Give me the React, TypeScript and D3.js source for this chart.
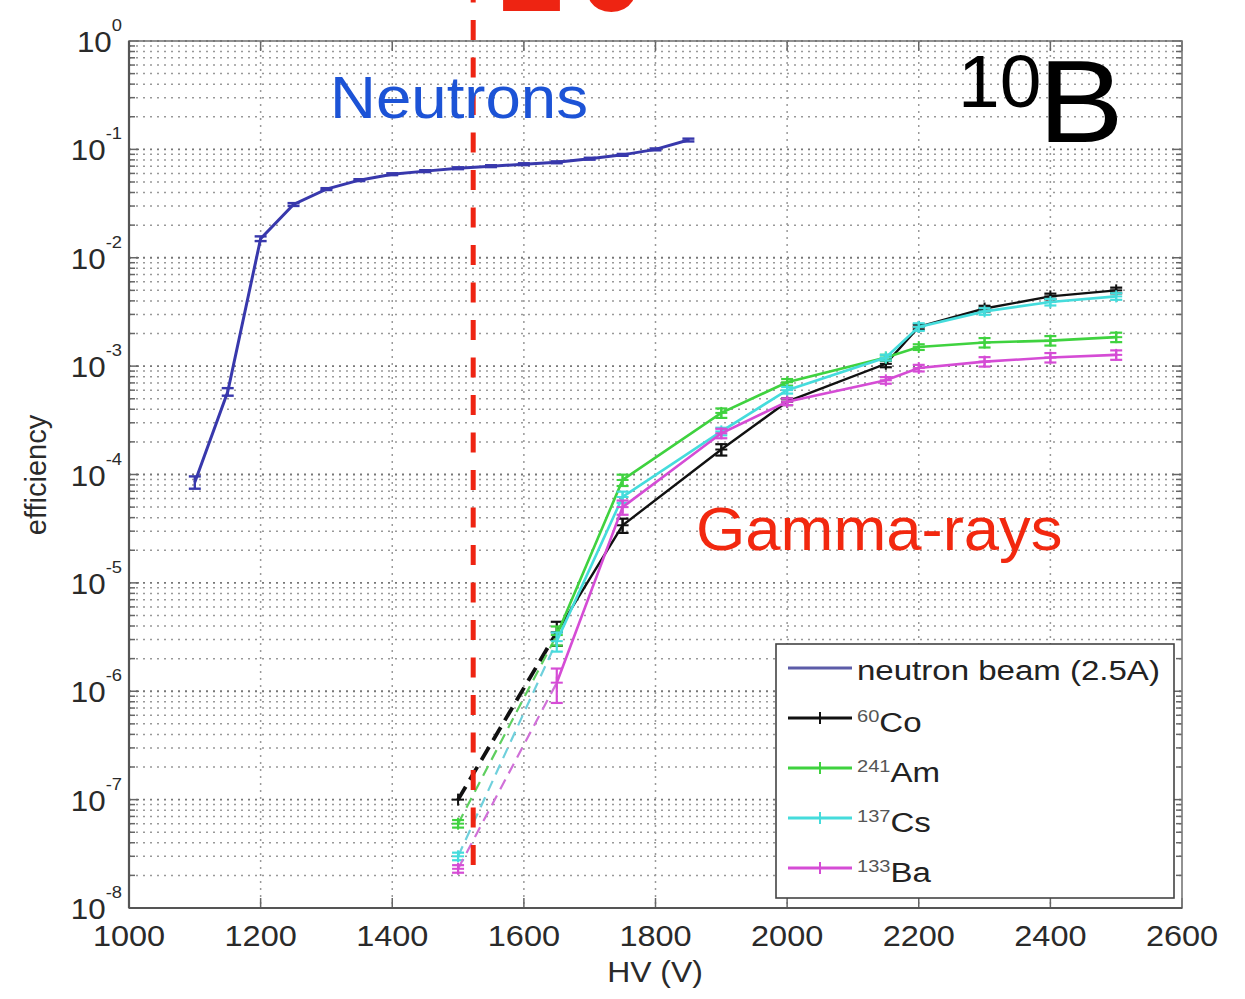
import React from 'react';
import * as d3 from 'd3';

// ---------------- data ----------------
const hvNeutron = [1100, 1150, 1200, 1250, 1300, 1350, 1400, 1450, 1500, 1550, 1600, 1650, 1700, 1750, 1800, 1850];
const effNeutron = [8.5e-5, 5.8e-4, 1.5e-2, 3.1e-2, 4.3e-2, 5.2e-2, 5.9e-2, 6.3e-2, 6.7e-2, 7.0e-2, 7.3e-2, 7.6e-2, 8.2e-2, 8.9e-2, 1.0e-1, 1.22e-1];
const errNeutron = [0.13, 0.08, 0.05, 0.03, 0.02, 0.02, 0.02, 0.02, 0.02, 0.02, 0.02, 0.02, 0.02, 0.02, 0.02, 0.03];

const hvGamma = [1500, 1650, 1750, 1900, 2000, 2150, 2200, 2300, 2400, 2500];
const effCo60 = [1.0e-7, 3.5e-6, 3.4e-5, 1.7e-4, 4.7e-4, 1.05e-3, 2.3e-3, 3.4e-3, 4.4e-3, 5.0e-3];
const errCo60 = [0, 0.25, 0.15, 0.12, 0.07, 0.07, 0.05, 0.06, 0.06, 0.06];
const effAm241 = [6.0e-8, 3.3e-6, 8.9e-5, 3.7e-4, 7.1e-4, 1.2e-3, 1.5e-3, 1.65e-3, 1.72e-3, 1.85e-3];
const errAm241 = [0.08, 0.2, 0.12, 0.1, 0.07, 0.06, 0.06, 0.1, 0.1, 0.1];
const effCs137 = [3.0e-8, 2.9e-6, 6.2e-5, 2.5e-4, 6.0e-4, 1.2e-3, 2.3e-3, 3.2e-3, 3.9e-3, 4.4e-3];
const errCs137 = [0.08, 0.2, 0.12, 0.08, 0.07, 0.06, 0.08, 0.07, 0.07, 0.07];
const effBa133 = [2.3e-8, 1.2e-6, 5.0e-5, 2.4e-4, 4.7e-4, 7.4e-4, 9.6e-4, 1.1e-3, 1.2e-3, 1.27e-3];
const errBa133 = [0.08, 0.35, 0.15, 0.1, 0.07, 0.07, 0.07, 0.1, 0.1, 0.1];

const xTickValues = [1000, 1200, 1400, 1600, 1800, 2000, 2200, 2400, 2600];
const yDecadeExponents = [0, -1, -2, -3, -4, -5, -6, -7, -8];
const thresholdHV = 1523;
const thresholdBottomEff = 2.4e-8;

const legendNames = ['neutron beam (2.5A)', 'Co', 'Am', 'Cs', 'Ba'];
const legendSups = ['', '60', '241', '137', '133'];

// ---------------- layout / style ----------------
const W = 1245, H = 999;
const X0 = 129, X1 = 1182, Y0 = 41, Y1 = 908;
const FONT = '"Liberation Sans", Arial, Helvetica, sans-serif';

const gammaStyles = [
  { color: '#111111', dash: '#111111', w: 2.4, dw: 3.8, da: '15,8' },
  { color: '#3fd23f', dash: '#5fcf5f', w: 2.6, dw: 2.2, da: '11,7' },
  { color: '#45dcdc', dash: '#6fd0dc', w: 2.6, dw: 2.2, da: '11,7' },
  { color: '#d54cd5', dash: '#d070d8', w: 2.6, dw: 2.2, da: '11,7' },
];
const gammaData = [
  { eff: effCo60, err: errCo60 },
  { eff: effAm241, err: errAm241 },
  { eff: effCs137, err: errCs137 },
  { eff: effBa133, err: errBa133 },
];
const neutronColor = '#3838ac';

function SText(props: any) {
  const { x, y, sx = 1, size, anchor = 'start', fill = '#222', weight, children, spacing } = props;
  return (
    <text
      transform={`translate(${x},${y}) scale(${sx},1)`}
      fontSize={size}
      textAnchor={anchor}
      fill={fill}
      fontWeight={weight}
      fontFamily={FONT}
      letterSpacing={spacing}
    >
      {children}
    </text>
  );
}

export default function App() {
  const x = d3.scaleLinear().domain([1000, 2600]).range([X0, X1]);
  const y = d3.scaleLog().domain([1e-8, 1]).range([Y1, Y0]);
  const yTicks = y.ticks();
  const isMajor = (v: number) => Math.abs(Math.log10(v) - Math.round(Math.log10(v))) < 1e-9;

  const line = d3
    .line<[number, number]>()
    .x((d) => x(d[0]))
    .y((d) => y(d[1]));

  const neutronPts: [number, number][] = hvNeutron.map((h, i) => [h, effNeutron[i]]);

  const errorBar = (hv: number, v: number, e: number, color: string, key: string, w = 2) => {
    if (!e) return null;
    const cx = x(hv);
    const lo = y(v * (1 - e));
    const hi = y(v * (1 + e));
    return (
      <g key={key} stroke={color} strokeWidth={w}>
        <line x1={cx} x2={cx} y1={lo} y2={hi} />
        <line x1={cx - 6} x2={cx + 6} y1={lo} y2={lo} />
        <line x1={cx - 6} x2={cx + 6} y1={hi} y2={hi} />
      </g>
    );
  };

  const plus = (cx: number, cy: number, color: string, key: string, w = 2) => (
    <g key={key} stroke={color} strokeWidth={w}>
      <line x1={cx - 6} x2={cx + 6} y1={cy} y2={cy} />
      <line x1={cx} x2={cx} y1={cy - 6} y2={cy + 6} />
    </g>
  );

  return (
    <svg width={W} height={H} style={{ position: 'absolute', left: 0, top: 0, background: '#fff' }}>
      <rect x={0} y={0} width={W} height={H} fill="#fff" />
      {/* grid */}
      <g>
        {yTicks.map((v, i) => (
          <line
            key={'hg' + i}
            x1={X0}
            x2={X1}
            y1={y(v)}
            y2={y(v)}
            stroke={isMajor(v) ? '#777' : '#999'}
            strokeWidth={isMajor(v) ? 1.8 : 1.5}
            strokeDasharray="2,5"
          />
        ))}
        {xTickValues.slice(1, -1).map((v) => (
          <line key={'vg' + v} x1={x(v)} x2={x(v)} y1={Y0} y2={Y1} stroke="#999" strokeWidth={1.5} strokeDasharray="2,5" />
        ))}
      </g>
      {/* axis ticks */}
      <g stroke="#666" strokeWidth={1.5}>
        {yTicks.map((v, i) => {
          const len = isMajor(v) ? 10 : 6;
          return (
            <g key={'yt' + i}>
              <line x1={X0} x2={X0 + len} y1={y(v)} y2={y(v)} />
              <line x1={X1} x2={X1 - len} y1={y(v)} y2={y(v)} />
            </g>
          );
        })}
        {xTickValues.map((v) => (
          <g key={'xt' + v}>
            <line x1={x(v)} x2={x(v)} y1={Y1} y2={Y1 - 10} />
            <line x1={x(v)} x2={x(v)} y1={Y0} y2={Y0 + 10} />
          </g>
        ))}
      </g>
      <rect x={X0} y={Y0} width={X1 - X0} height={Y1 - Y0} fill="none" stroke="#777" strokeWidth={1.6} />
      <line x1={X0} x2={X0} y1={Y0} y2={Y1} stroke="#555" strokeWidth={2.2} />
      <line x1={X0} x2={X1} y1={Y1} y2={Y1} stroke="#555" strokeWidth={2.2} />

      {/* tick labels */}
      {xTickValues.map((v) => (
        <SText key={'xl' + v} x={x(v)} y={946} sx={1.12} size={29} anchor="middle" fill="#2a2a2a">
          {String(v)}
        </SText>
      ))}
      {yDecadeExponents.map((e) => (
        <SText key={'yl' + e} x={122} y={y(Math.pow(10, e)) + 11} sx={1.08} size={29} anchor="end" fill="#2a2a2a">
          10
          <tspan dy={-21} fontSize={17}>
            {String(e)}
          </tspan>
        </SText>
      ))}
      <SText x={655} y={982} sx={1.1} size={29} anchor="middle" fill="#2a2a2a">
        HV (V)
      </SText>
      <text transform="translate(46,475) rotate(-90)" fontSize={29} textAnchor="middle" fill="#2a2a2a" fontFamily={FONT}>
        efficiency
      </text>

      {/* neutron series */}
      <path d={line(neutronPts) || ''} fill="none" stroke={neutronColor} strokeWidth={3} />
      {hvNeutron.map((h, i) => errorBar(h, effNeutron[i], errNeutron[i], neutronColor, 'ne' + i, 2.4))}

      {/* gamma series */}
      {gammaData.map((s, si) => {
        const st = gammaStyles[si];
        const pts: [number, number][] = hvGamma.map((h, i) => [h, s.eff[i]]);
        return (
          <g key={'gs' + si}>
            <path d={line(pts.slice(0, 2)) || ''} fill="none" stroke={st.dash} strokeWidth={st.dw} strokeDasharray={st.da} />
            <path d={line(pts.slice(1)) || ''} fill="none" stroke={st.color} strokeWidth={st.w} />
            {pts.map((p, i) => errorBar(p[0], p[1], s.err[i], st.color, 'e' + si + '-' + i, 2.2))}
            {pts.map((p, i) => plus(x(p[0]), y(p[1]), st.color, 'p' + si + '-' + i, 2))}
          </g>
        );
      })}

      {/* threshold line */}
      <line
        x1={x(thresholdHV)}
        x2={x(thresholdHV)}
        y1={-17.5}
        y2={y(thresholdBottomEff)}
        stroke="#ee2412"
        strokeWidth={5}
        strokeDasharray="20,17.5"
      />

      {/* annotations (the top red label is cropped by the frame in the reference) */}
      <SText x={499} y={11} sx={1.0} size={118} anchor="start" fill="#ee2412" weight="bold" spacing={14}>
        20
      </SText>
      <SText x={330} y={118} sx={1.06} size={60} fill="#1c53d6">
        Neutrons
      </SText>
      <SText x={696} y={550} sx={1.04} size={61} fill="#f2280f">
        Gamma-rays
      </SText>
      <SText x={958} y={107} sx={1.0} size={75} fill="#000">
        10
      </SText>
      <SText x={1038} y={142} sx={1.1} size={117} fill="#000">
        B
      </SText>

      {/* legend */}
      <g>
        <rect x={776} y={644} width={398} height={254} fill="#fff" stroke="#444" strokeWidth={1.6} />
        {legendNames.map((name, i) => {
          const ly = 668 + i * 50;
          const color = i === 0 ? '#5c5ca8' : gammaStyles[i - 1].color;
          return (
            <g key={'lg' + i}>
              <line x1={788} x2={852} y1={ly} y2={ly} stroke={color} strokeWidth={3} />
              {i > 0 && <line x1={820} x2={820} y1={ly - 6} y2={ly + 6} stroke={color} strokeWidth={2} />}
              {i === 0 ? (
                <SText x={857} y={ly + 12} sx={1.18} size={28}>
                  {name}
                </SText>
              ) : (
                <SText x={857} y={ly + 14} sx={1.18} size={28}>
                  <tspan fontSize={17} fill="#555" dy={-10}>
                    {legendSups[i]}
                  </tspan>
                  <tspan dy={10}>{name}</tspan>
                </SText>
              )}
            </g>
          );
        })}
      </g>
    </svg>
  );
}
